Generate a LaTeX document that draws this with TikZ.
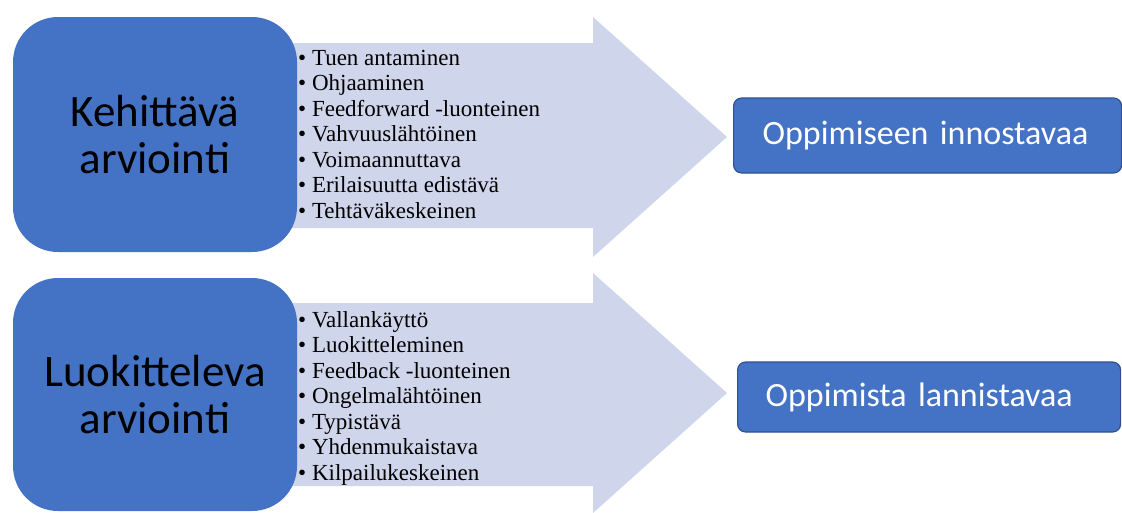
\documentclass[tikz,border=0pt]{standalone}
\usepackage{fontspec}
\setmainfont{Liberation Serif}
\newfontfamily\calibri{Carlito}
\usetikzlibrary{positioning}

\definecolor{offblue}{HTML}{4472C4}
\definecolor{offdark}{HTML}{2F528F}
\definecolor{arrowfill}{HTML}{CFD5EA}

\begin{document}
\begin{tikzpicture}[x=1pt,y=-1pt,
  bigbox/.style={fill=offblue,rounded corners=45pt,minimum width=284pt,minimum height=235pt,align=center,inner sep=0pt,font=\calibri\fontsize{45}{47}\selectfont},
  listtext/.style={anchor=north west,align=left,inner sep=0pt,font=\fontsize{23}{25.5}\selectfont},
  resultbox/.style={anchor=west,fill=offblue,draw=offdark,line width=1.2pt,rounded corners=8pt,minimum height=75pt,text width=330pt,inner xsep=29pt,text=white,font=\calibri\fontsize{34}{36}\selectfont}]

\useasboundingbox (0,0) rectangle (1122,512);

\fill[arrowfill](290,43)--(593,43)--(593,17)--(727,137)--(593,257)--(593,228)--(290,228)--cycle;
\fill[arrowfill](290,303)--(593,303)--(593,273)--(727,393)--(593,513)--(593,486)--(290,486)--cycle;

\node[bigbox](kehit) at (155,134.5){Kehittävä\\arviointi};
\node[bigbox,minimum height=233pt](luok) at (155,394.5){Luokitteleva\\arviointi};

\node[listtext](kehitlist) at (298,50){• Tuen antaminen\\• Ohjaaminen\\• Feedforward -luonteinen\\• Vahvuuslähtöinen\\• Voimaannuttava\\• Erilaisuutta edistävä\\• Tehtäväkeskeinen};
\node[listtext](luoklist) at (298,311){• Vallankäyttö\\• Luokitteleminen\\• Feedback -luonteinen\\• Ongelmalähtöinen\\• Typistävä\\• Yhdenmukaistava\\• Kilpailukeskeinen};

\node[resultbox](innost) at (733,135.5){Oppimiseen innostavaa};
\node[resultbox,text width=327pt,inner xsep=28pt,minimum height=70pt](lannist) at (737,397){Oppimista lannistavaa};

\end{tikzpicture}
\end{document}
